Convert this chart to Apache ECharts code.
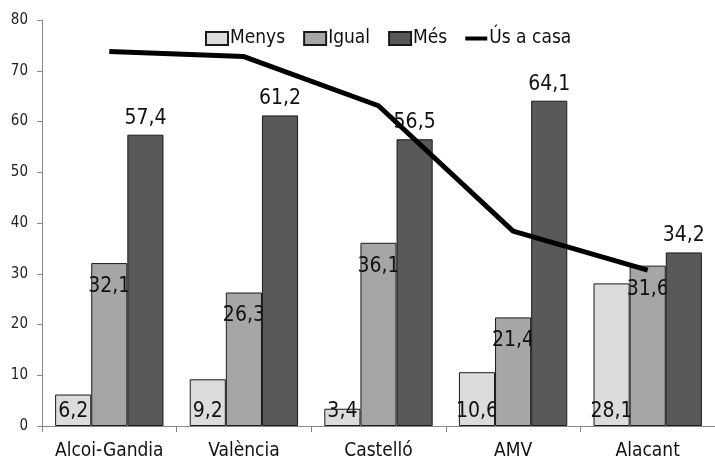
<!DOCTYPE html>
<html><head><meta charset="utf-8">
<script src="https://cdn.jsdelivr.net/npm/echarts@6/dist/echarts.min.js"></script>
<style>html,body{margin:0;padding:0;background:#fff}#c{width:715px;height:468px}</style>
</head><body><div id="c"></div>
<script>
const categories = ['Alcoi-Gandia', 'València', 'Castelló', 'AMV', 'Alacant'];
const menys = [6.2, 9.2, 3.4, 10.6, 28.1];
const igual = [32.1, 26.3, 36.1, 21.4, 31.6];
const mes = [57.4, 61.2, 56.5, 64.1, 34.2];
const usCasa = [73.8, 72.8, 63.1, 38.4, 30.7];
const yTicks = { min: 0, max: 80, interval: 10 };

const FONT = '"DejaVu Sans Condensed", "DejaVu Sans", sans-serif';
const fmt = p => String(p.value).replace('.', ',');
const border = { borderColor: '#1a1a1a', borderWidth: 1 };

const chart = echarts.init(document.getElementById('c'));
chart.setOption({
  animation: false,
  textStyle: { fontFamily: FONT },
  grid: { left: 42, top: 20, width: 679, height: 406 },
  legend: {
    left: 200, top: 24, itemWidth: 22, itemHeight: 13, itemGap: 18,
    textStyle: { fontFamily: FONT, fontSize: 19, color: '#111', padding: [0, 0, 0, -3] },
    data: [
      { name: 'Menys', icon: 'rect' },
      { name: 'Igual', icon: 'rect' },
      { name: 'Més', icon: 'rect' },
      { name: 'Ús a casa', icon: 'path://M0 0H22V4H0Z', itemStyle: { color: '#000', borderWidth: 0 } }
    ]
  },
  xAxis: {
    type: 'category', data: categories,
    axisLine: { lineStyle: { color: '#888', width: 1 } },
    axisTick: { show: true, length: 6, lineStyle: { color: '#888' } },
    axisLabel: { interval: 0, fontFamily: FONT, fontSize: 19, color: '#111', margin: 16 }
  },
  yAxis: {
    type: 'value', min: yTicks.min, max: yTicks.max, interval: yTicks.interval,
    splitLine: { show: false },
    axisLine: { show: true, lineStyle: { color: '#888', width: 1 } },
    axisTick: { show: true, length: 5, lineStyle: { color: '#888' } },
    axisLabel: { fontFamily: FONT, fontSize: 15, color: '#222', margin: 14 }
  },
  series: [
    {
      name: 'Menys', type: 'bar', data: menys, zlevel: 0,
      barGap: '0%', barCategoryGap: '19.5%',
      itemStyle: Object.assign({ color: '#dcdcdc' }, border),
      label: { show: true, position: 'insideBottom', distance: 4, formatter: fmt,
               fontFamily: FONT, fontSize: 21, color: '#111' }
    },
    {
      name: 'Igual', type: 'bar', data: igual, zlevel: 1,
      barGap: '0%', barCategoryGap: '19.5%',
      itemStyle: Object.assign({ color: '#a6a6a6' }, border),
      label: { show: true, position: 'insideTop', distance: 5, offset: [0, 8], formatter: fmt,
               fontFamily: FONT, fontSize: 21, color: '#111' }
    },
    {
      name: 'Més', type: 'bar', data: mes, zlevel: 2,
      barGap: '0%', barCategoryGap: '19.5%',
      itemStyle: Object.assign({ color: '#595959' }, border),
      label: { show: true, position: 'top', distance: 6, formatter: fmt,
               fontFamily: FONT, fontSize: 21, color: '#111' }
    },
    {
      name: 'Ús a casa', type: 'line', data: usCasa, zlevel: 3,
      symbol: 'none', smooth: false,
      lineStyle: { color: '#000', width: 5 },
      itemStyle: { color: '#000' }
    }
  ]
});
</script>
</body></html>
